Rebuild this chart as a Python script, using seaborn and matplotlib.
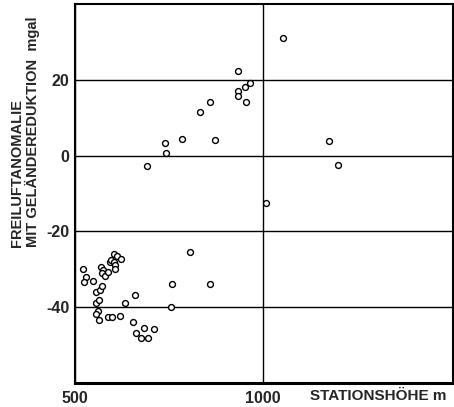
import matplotlib
matplotlib.use("Agg")
import matplotlib.pyplot as plt
import seaborn as sns
import pandas as pd

# Station height (m) and free-air anomaly with terrain reduction (mgal)
height = [
    1054, 933, 964, 953, 934, 934, 955, 860, 832, 785, 872, 739, 743, 692, 1175, 1200,
    1007, 805, 757, 860, 755, 660, 634, 619, 655, 661, 684, 711, 676, 695,
    520, 530, 523, 547, 570, 575, 573, 581, 589, 592, 596, 603, 604, 607, 606, 611, 623,
    556, 567, 571, 555, 565, 560, 556, 565, 589, 598,
]
anomaly = [
    30.9, 22.4, 19.2, 18.2, 17.0, 15.6, 14.2, 14.1, 11.4, 4.4, 4.0, 3.4, 0.7, -2.8, 3.9, -2.4,
    -12.5, -25.4, -33.9, -33.9, -39.9, -36.9, -39.0, -42.4, -43.9, -46.8, -45.5, -45.8, -48.2, -48.1,
    -29.8, -31.9, -33.3, -33.2, -29.3, -30.1, -31.0, -31.8, -30.7, -28.2, -27.5, -25.9, -28.2, -28.8, -30.0, -26.6, -27.2,
    -35.9, -35.5, -34.3, -38.9, -38.2, -40.9, -41.9, -43.5, -42.5, -42.5,
]
x_ticks = [500, 1000]
y_ticks = [-40, -20, 0, 20]
x_label = "STATIONSHÖHE m"
y_label_1 = "FREILUFTANOMALIE"
y_label_2 = "MIT GELÄNDEREDUKTION  mgal"

df = pd.DataFrame({"h": height, "a": anomaly})

sns.set_style("white")
plt.rcParams["font.family"] = ["Liberation Sans", "DejaVu Sans"]

W, H = 454, 407
fig = plt.figure(figsize=(W / 100, H / 100), dpi=100)
ax = fig.add_axes([75 / W, 1 - 383 / H, 378 / W, 379 / H])

sns.scatterplot(data=df, x="h", y="a", ax=ax, marker="o", s=18,
                facecolor="white", edgecolor="black", linewidth=1.0, zorder=3)

ax.set_xlim(500, 1505)
ax.set_ylim(-60, 40)
ax.set_xticks(x_ticks)
ax.set_yticks(y_ticks)
ax.set_xticklabels([str(v) for v in x_ticks], fontsize=11.5, fontweight="bold")
ax.set_yticklabels([str(v) for v in y_ticks], fontsize=11.5, fontweight="bold")
ax.tick_params(axis="x", length=0, pad=6)
ax.tick_params(axis="y", length=3, width=1, direction="out", pad=1, color="black")
ax.grid(True, color="black", linewidth=1.0)
ax.set_axisbelow(True)
for side in ["left", "right", "top"]:
    ax.spines[side].set_color("black")
    ax.spines[side].set_linewidth(1.5)
ax.spines["bottom"].set_color("black")
ax.spines["bottom"].set_linewidth(2.2)
ax.set_xlabel("")
ax.set_ylabel("")

fig.text(447 / W, 1 - 396 / H, x_label, ha="right", va="center",
         fontsize=11, fontweight="bold")
fig.text(17 / W, 1 - 247 / H, y_label_1, rotation=90, ha="center", va="bottom",
         fontsize=10.5, fontweight="bold")
fig.text(32 / W, 1 - 247 / H, y_label_2, rotation=90, ha="center", va="bottom",
         fontsize=10.5, fontweight="bold")

fig.savefig("out.png", dpi=100)
